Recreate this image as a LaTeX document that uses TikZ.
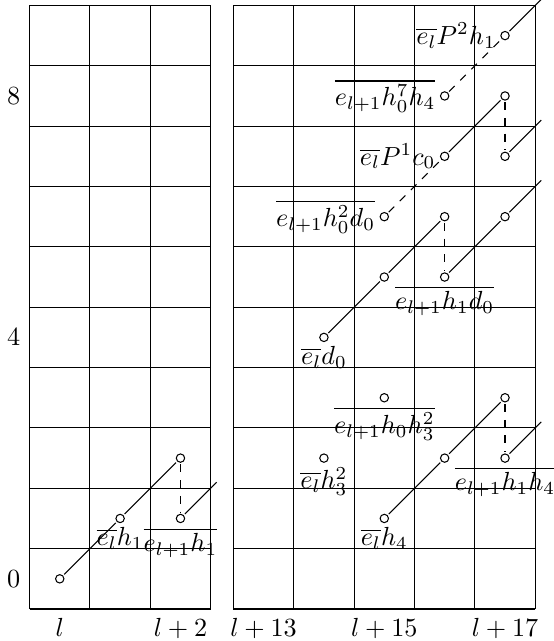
\documentclass[tikz,border=0pt]{standalone}
\usetikzlibrary{positioning}

\begin{document}
\begin{tikzpicture}[x=0.81cm,y=0.81cm]
  \tikzstyle{dot}=[draw,circle,inner sep=0pt,minimum size=3.2pt,outer sep=0.8pt]
  \tikzstyle{hone}=[thin]
  \tikzstyle{hext}=[thin,dashed]
  \useasboundingbox (-0.99,-1.03) rectangle (8.18,9.59);
  % left chart
  \foreach \i in {0,...,3} \draw (\i-0.5,-0.5) -- (\i-0.5,9.5);
  \foreach \j in {0,...,10} \draw (-0.5,\j-0.5) -- (2.5,\j-0.5);
  \foreach \t in {0,4,8} \node[left] (t\t) at (-0.5,\t) {$\t$};
  \node[below] (s0) at (0,-0.5) {$l$};
  \node[below] (s2) at (2,-0.5) {$l+2$};
  \node[dot] (a00) at (0,0) {};
  \node[dot] (a11) at (1,1) {};
  \node[dot] (a22) at (2,2) {};
  \node[dot] (a21) at (2,1) {};
  \coordinate (a21x) at (2.6,1.6);
  \draw[hone] (a00) -- (a11) -- (a22);
  \draw[hext] (a22) -- (a21);
  \draw[hone] (a21) -- (a21x);
  \node[below] (la11) at (a11.center) {$\overline{e_l}h_1$};
  \node[below] (la21) at (a21.center) {$\overline{e_{l+1}h_1}$};
  % right chart
  \begin{scope}[shift={(-9.623,0)}]
    \foreach \i in {13,...,18} \draw (\i-0.5,-0.5) -- (\i-0.5,9.5);
    \foreach \j in {0,...,10} \draw (12.5,\j-0.5) -- (17.5,\j-0.5);
    \foreach \s in {13,15,17} \node[below] (s\s) at (\s,-0.5) {$l+\s$};
    \node[dot] (d179) at (17,9) {};
    \node[dot] (d168) at (16,8) {};
    \node[dot] (d178) at (17,8) {};
    \node[dot] (d167) at (16,7) {};
    \node[dot] (d177) at (17,7) {};
    \node[dot] (d156) at (15,6) {};
    \node[dot] (d166) at (16,6) {};
    \node[dot] (d176) at (17,6) {};
    \node[dot] (d155) at (15,5) {};
    \node[dot] (d165) at (16,5) {};
    \node[dot] (d144) at (14,4) {};
    \node[dot] (d153) at (15,3) {};
    \node[dot] (d173) at (17,3) {};
    \node[dot] (d142) at (14,2) {};
    \node[dot] (d162) at (16,2) {};
    \node[dot] (d172) at (17,2) {};
    \node[dot] (d151) at (15,1) {};
    \coordinate (d179x) at (17.6,9.6);
    \coordinate (d177x) at (17.6,7.6);
    \coordinate (d176x) at (17.6,6.6);
    \coordinate (d172x) at (17.6,2.6);
    % h1 lines
    \draw[hone] (d179) -- (d179x);
    \draw[hone] (d167) -- (d178);
    \draw[hone] (d177) -- (d177x);
    \draw[hone] (d144) -- (d155) -- (d166);
    \draw[hone] (d165) -- (d176) -- (d176x);
    \draw[hone] (d151) -- (d162) -- (d173);
    \draw[hone] (d172) -- (d172x);
    % hidden extensions
    \draw[hext] (d168) -- (d179);
    \draw[hext] (d156) -- (d167);
    \draw[hext] (d178) -- (d177);
    \draw[hext] (d166) -- (d165);
    \draw[hext] (d173) -- (d172);
    % labels
    \node[left] (l179) at (d179.center) {$\overline{e_l}P^2h_1$};
    \node[left] (l168) at (d168.center) {$\overline{e_{l+1}h_0^7h_4}$};
    \node[left] (l167) at (d167.center) {$\overline{e_l}P^1c_0$};
    \node[left] (l156) at (d156.center) {$\overline{e_{l+1}h_0^2d_0}$};
    \node[below] (l165) at (d165.center) {$\overline{e_{l+1}h_1d_0}$};
    \node[below] (l144) at (d144.center) {$\overline{e_l}d_0$};
    \node[below] (l153) at (d153.center) {$\overline{e_{l+1}h_0h_3^2}$};
    \node[below] (l142) at (d142.center) {$\overline{e_l}h_3^2$};
    \node[below] (l151) at (d151.center) {$\overline{e_l}h_4$};
    \node[below] (l172) at (d172.center) {$\overline{e_{l+1}h_1h_4}$};
  \end{scope}
\end{tikzpicture}
\end{document}
